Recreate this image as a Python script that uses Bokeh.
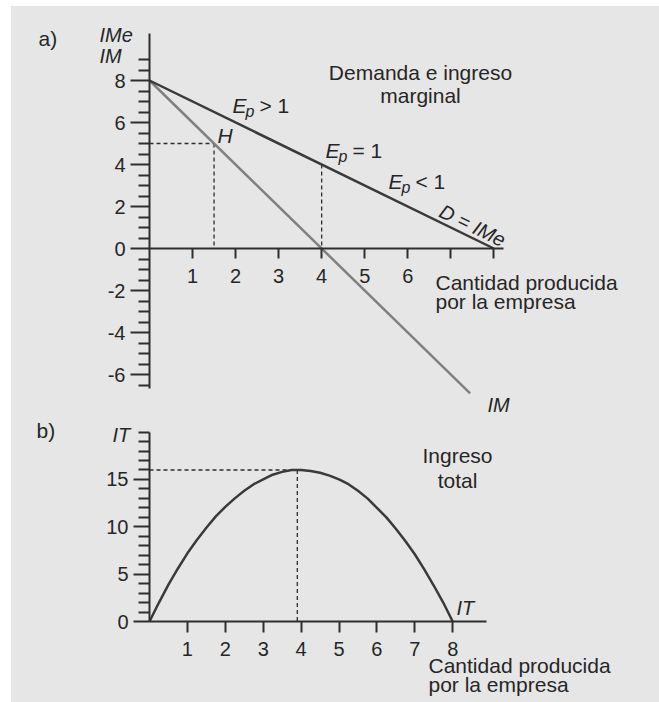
from bokeh.plotting import figure
from bokeh.models import Label, FixedTicker
from bokeh.layouts import column
from bokeh.embed import file_html
from bokeh.resources import INLINE

# ---------------- data ----------------
# panel a) demand (IMe) and marginal revenue (IM)
q_demand = [0, 8]
ime_demand = [8, 0]
q_im = [0, 7.45]
im_values = [8, -6.9]
h_point = [1.5, 5]          # point H on IM
unit_point = [4, 4]         # E_p = 1 on demand
top_x_ticks = [1, 2, 3, 4, 5, 6, 7, 8]
top_x_labels = ["1", "2", "3", "4", "5", "6", "", ""]
top_y_ticks = [-6, -4, -2, 0, 2, 4, 6, 8]
top_y_labels = ["-6", "-4", "-2", "0", "2", "4", "6", "8"]
top_y_minor = [-6.5, -5.5, -5, -4.5, -3.5, -3, -2.5, -1.5, -1, -0.5,
               0.5, 1, 1.5, 2.5, 3, 3.5, 4.5, 5, 5.5, 6.5, 7, 7.5, 8.5, 9]

# panel b) total revenue (IT)
q_it = [0, 0.25, 0.5, 0.75, 1, 1.25, 1.5, 1.75, 2, 2.25, 2.5, 2.75, 3, 3.25,
        3.5, 3.75, 4, 4.25, 4.5, 4.75, 5, 5.25, 5.5, 5.75, 6, 6.25, 6.5, 6.75,
        7, 7.25, 7.5, 7.75, 8]
it_values = [0, 2.0, 3.9, 5.6, 7.2, 8.6, 9.9, 11.1, 12.1, 13.0, 13.8, 14.5,
             15.0, 15.5, 15.8, 16.0, 16.0, 15.9, 15.7, 15.4, 15.0, 14.5, 13.8,
             13.0, 12.0, 11.0, 9.8, 8.5, 7.1, 5.5, 3.8, 2.0, 0]
it_peak = [3.9, 16]
bot_x_ticks = [1, 2, 3, 4, 5, 6, 7, 8]
bot_x_labels = ["1", "2", "3", "4", "5", "6", "7", "8"]
bot_y_ticks = [0, 5, 10, 15]
bot_y_labels = ["0", "5", "10", "15"]
bot_y_minor = [1, 2, 3, 4, 6, 7, 8, 9, 11, 12, 13, 14, 16, 17, 18, 19, 20]

# ---------------- style ----------------
BG = "#e6e6e6"
AX = "#2e2e2e"
TXT = "#262626"
DARK = "#3a3a3a"
MID = "#808080"
FONT = "Liberation Sans"
LEFT, TOP = 11, 6
W = 648
TEXT_SHIFT = 8   # baseline correction for labels

# geometry (page pixels of the origins and scale)
T_X0, T_XS, T_Y0, T_YS = 149, 43.04, 248, 21.0
B_X0, B_XS, B_Y0, B_YS = 149, 37.9, 621, 9.47
TOP_H, BOT_H = 408, 288
TOP_PAGE, BOT_PAGE = TOP, TOP + TOP_H


def make_fig(h, x0, xs, y0, ys, page_top):
    xstart = -(x0 - LEFT) / xs
    xend = xstart + W / xs
    yend = (y0 - page_top) / ys
    ystart = yend - h / ys
    p = figure(width=W, height=h, x_range=(xstart, xend), y_range=(ystart, yend),
               output_backend="svg", toolbar_location=None, min_border=0,
               background_fill_color=BG, border_fill_color=BG, outline_line_color=None)
    p.grid.visible = False
    for ax in (p.xaxis[0], p.yaxis[0]):
        ax.fixed_location = 0
        ax.axis_line_color = AX
        ax.axis_line_width = 2
        ax.major_tick_line_color = AX
        ax.major_tick_line_width = 2
        ax.minor_tick_line_color = AX
        ax.minor_tick_line_width = 2
        ax.major_tick_in = 0
        ax.minor_tick_in = 0
        ax.major_label_text_font = FONT
        ax.major_label_text_font_size = "20px"
        ax.major_label_text_color = TXT
    return p


def lbl(p, conv, text, px, py, size="21px", style="normal", align="left",
        baseline="alphabetic", angle=0.0):
    if baseline == "alphabetic":
        py -= TEXT_SHIFT
    x, y = conv(px, py)
    p.add_layout(Label(x=x, y=y, text=text, text_font=FONT, text_font_size=size,
                       text_font_style=style, text_color=TXT, text_align=align,
                       text_baseline=baseline, angle=angle))


def top_conv(px, py):
    return (px - T_X0) / T_XS, (T_Y0 - py) / T_YS


def bot_conv(px, py):
    return (px - B_X0) / B_XS, (B_Y0 - py) / B_YS


# ---------------- panel a ----------------
pa = make_fig(TOP_H, T_X0, T_XS, T_Y0, T_YS, TOP_PAGE)
pa.xaxis.ticker = FixedTicker(ticks=top_x_ticks)
pa.xaxis.major_label_overrides = {t: s for t, s in zip(top_x_ticks, top_x_labels)}
pa.xaxis.major_tick_out = 10
pa.xaxis.minor_tick_line_color = None
pa.xaxis.major_label_standoff = 10
pa.xaxis.bounds = (0, 8.23)
pa.yaxis.ticker = FixedTicker(ticks=top_y_ticks, minor_ticks=top_y_minor)
pa.yaxis.major_label_overrides = {t: s for t, s in zip(top_y_ticks, top_y_labels)}
pa.yaxis.major_tick_out = 19
pa.yaxis.minor_tick_out = 11
pa.yaxis.major_label_standoff = 5
pa.yaxis.bounds = (-6.67, 10.24)

dash = dict(line_color=AX, line_width=1.3, line_dash="4 3")
pa.line([0, h_point[0]], [h_point[1], h_point[1]], **dash)
pa.line([h_point[0], h_point[0]], [h_point[1], 0], **dash)
pa.line([unit_point[0], unit_point[0]], [unit_point[1], 0], **dash)
pa.line(q_im, im_values, line_color=MID, line_width=2.5)
pa.line(q_demand, ime_demand, line_color=DARK, line_width=2.5)

lbl(pa, top_conv, "a)", 38, 46)
lbl(pa, top_conv, "IMe", 99, 42, size="20px", style="italic")
lbl(pa, top_conv, "IM", 99, 63, size="20px", style="italic")
lbl(pa, top_conv, "Demanda e ingreso", 420, 80, align="center")
lbl(pa, top_conv, "marginal", 420, 103, align="center")
for ex, ey, rest in [(232, 113, "> 1"), (325, 158, "= 1"), (388, 189, "< 1")]:
    lbl(pa, top_conv, "E", ex, ey, style="italic")
    lbl(pa, top_conv, "p", ex + 13, ey + 6, size="16px", style="italic")
    lbl(pa, top_conv, rest, ex + 27, ey)
lbl(pa, top_conv, "H", 217, 143, style="italic")
lbl(pa, top_conv, "D = IMe", 472, 225, size="20px", style="italic", align="center",
    baseline="middle", angle=-0.454)
lbl(pa, top_conv, "Cantidad producida", 435, 290)
lbl(pa, top_conv, "por la empresa", 435, 309)
lbl(pa, top_conv, "IM", 487, 412, size="20px", style="italic")

# ---------------- panel b ----------------
pb = make_fig(BOT_H, B_X0, B_XS, B_Y0, B_YS, BOT_PAGE)
pb.xaxis.ticker = FixedTicker(ticks=bot_x_ticks)
pb.xaxis.major_label_overrides = {t: s for t, s in zip(bot_x_ticks, bot_x_labels)}
pb.xaxis.major_tick_out = 11
pb.xaxis.minor_tick_line_color = None
pb.xaxis.major_label_standoff = 9
pb.xaxis.bounds = (0, 8.9)
pb.yaxis.ticker = FixedTicker(ticks=bot_y_ticks, minor_ticks=bot_y_minor)
pb.yaxis.major_label_overrides = {t: s for t, s in zip(bot_y_ticks, bot_y_labels)}
pb.yaxis.major_tick_out = 16
pb.yaxis.minor_tick_out = 11
pb.yaxis.major_label_standoff = 5
pb.yaxis.bounds = (0, 20)

pb.line([0, it_peak[0]], [it_peak[1], it_peak[1]], **dash)
pb.line([it_peak[0], it_peak[0]], [it_peak[1], 0], **dash)
pb.line(q_it, it_values, line_color=DARK, line_width=2.5)

lbl(pb, bot_conv, "b)", 36, 438)
lbl(pb, bot_conv, "IT", 112, 442, size="20px", style="italic")
lbl(pb, bot_conv, "Ingreso", 457, 463, align="center")
lbl(pb, bot_conv, "total", 457, 488, align="center")
lbl(pb, bot_conv, "IT", 456, 615, size="20px", style="italic")
lbl(pb, bot_conv, "Cantidad producida", 428, 673)
lbl(pb, bot_conv, "por la empresa", 428, 692)

layout = column(pa, pb, spacing=0, margin=(TOP, 0, 0, LEFT),
                styles={"background-color": BG})
open("out.html", "w").write(file_html(layout, INLINE))
